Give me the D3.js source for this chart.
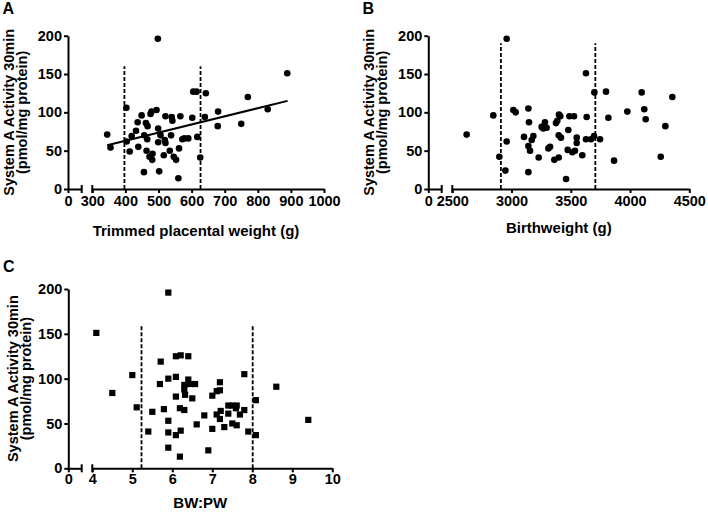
<!DOCTYPE html>
<html>
<head>
<meta charset="utf-8">
<script src="https://cdn.jsdelivr.net/npm/d3@7"></script>
<style>
  body { margin: 0; background: #fff; }
  svg { display: block; }
</style>
</head>
<body>
<div id="chart"></div>
<script>
// values
var activityTicks = [0, 50, 100, 150, 200];

// A: trimmed placental weight (g) vs System A activity
var placentalWeight = [345, 355, 403, 419, 404, 413, 432, 437, 439, 449, 457, 456, 462, 467, 464,
  466, 473, 476, 479, 481, 494, 482, 499, 502, 499, 506, 516, 519, 521, 521, 534, 540, 542, 538,
  546, 553, 560, 562, 566, 572, 578, 590, 602, 605, 615, 617, 626, 640, 643, 498, 680, 679, 750,
  770, 830, 889];
var activityA = [71, 54, 106, 69, 62, 49, 76, 87, 55, 96, 70, 22, 86, 82, 50, 65, 42, 98, 101, 38,
  103, 46, 79, 23, 61, 70, 44, 64, 95, 60, 50, 94, 89, 70, 42, 38, 14, 53, 95, 65, 66, 66, 93, 127,
  127, 68, 41, 94, 125, 196, 101, 82, 85, 120, 104, 151];
var placentalTicks = [300, 400, 500, 600, 700, 800, 900, 1000];
var placentalCutoffs = [397, 627];
var fitWeight = [345, 890];
var fitActivity = [57, 115];

// B: birthweight (g) vs System A activity
var birthWeight = [2846, 3015, 3035, 3142, 3147, 2959, 2897, 2948, 3142, 3105, 3184, 3170, 3142,
  3156, 3229, 3254, 3282, 3268, 3296, 3400, 3412, 3386, 3375, 3398, 3417, 3311, 3325, 3361, 3398,
  3460, 3479, 3488, 3527, 3474, 3513, 3535, 3550, 3550, 3597, 3634, 3699, 3797, 3628, 3670, 3696,
  3747, 3817, 3865, 2621, 2959, 3628, 3977, 4098, 4120, 4132, 4357, 4298, 4259];
var activityB = [96, 103, 100, 105, 87, 62, 42, 24, 22, 68, 69, 64, 56, 50, 41, 81, 87, 79, 80, 97,
  95, 89, 86, 70, 67, 53, 55, 38, 41, 13, 77, 95, 95, 51, 48, 50, 67, 60, 44, 94, 126, 127, 65, 65,
  69, 65, 93, 37, 71, 196, 151, 101, 126, 104, 91, 120, 82, 42];
var birthTicks = [2500, 3000, 3500, 4000, 4500];
var birthCutoffs = [2910, 3707];

// C: BW:PW ratio vs System A activity
var ratio = [5.40, 5.50, 5.71, 5.69, 5.79, 5.90, 5.90, 5.90, 5.90, 6.09, 6.21, 6.40, 6.09, 6.09,
  6.09, 6.21, 6.19, 6.30, 6.19, 6.30, 6.30, 6.32, 6.40, 6.44, 6.57, 6.50, 6.61, 6.80, 6.90, 7.00,
  7.00, 7.11, 7.19, 7.19, 7.11, 7.19, 7.21, 7.30, 7.40, 7.40, 7.50, 7.61, 7.50, 7.61, 7.59, 7.69,
  7.80, 7.80, 7.90, 8.09, 8.09, 4.10, 4.50, 5.00, 5.11, 5.90, 8.60, 9.40];
var activityC = [41, 63, 119, 94, 66, 100, 53, 40, 23, 125, 126, 125, 102, 80, 37, 42, 67, 65, 13,
  93, 88, 82, 99, 94, 94, 78, 49, 59, 20, 81, 44, 86, 87, 96, 60, 55, 64, 46, 70, 61, 50, 48, 70,
  70, 67, 60, 65, 105, 41, 76, 37, 151, 84, 104, 68, 196, 91, 54];
var ratioTicks = [4, 5, 6, 7, 8, 9, 10];
var ratioCutoffs = [5.23, 8.01];

var fontFamily = '"Liberation Sans", Arial, Helvetica, sans-serif';
var fmt = d3.format('d');

var svg = d3.select('#chart').append('svg')
  .attr('width', 708)
  .attr('height', 512)
  .attr('font-family', fontFamily)
  .attr('font-weight', 'bold');

function drawPanel(p) {
  var g = svg.append('g');

  var y = d3.scaleLinear().domain([0, 200]).range([p.bottom, p.top]);
  var xLow = d3.scaleLinear().domain(p.lowDomain).range([p.left, p.breakAt]);
  var x = d3.scaleLinear().domain(p.domain).range([p.resume, p.right]);

  // y axis
  var yAxis = g.append('g')
    .attr('transform', 'translate(' + p.left + ',0)')
    .call(d3.axisLeft(y).tickValues(activityTicks).tickFormat(fmt)
      .tickSize(4).tickPadding(2).tickSizeOuter(0));

  // x axis, in two pieces with a break
  var xAxisLow = g.append('g')
    .attr('transform', 'translate(0,' + p.bottom + ')')
    .call(d3.axisBottom(xLow).tickValues([p.lowDomain[0]]).tickFormat(fmt)
      .tickSize(4).tickPadding(p.xPad).tickSizeOuter(0));

  var xAxis = g.append('g')
    .attr('transform', 'translate(0,' + p.bottom + ')')
    .call(d3.axisBottom(x).tickValues(p.ticks).tickFormat(fmt)
      .tickSize(4).tickPadding(p.xPad).tickSizeOuter(0));

  [yAxis, xAxisLow, xAxis].forEach(function (a) {
    a.attr('font-family', null).attr('font-size', 14.5).attr('font-weight', 'bold');
    a.selectAll('path, line').attr('stroke', '#000').attr('stroke-width', 2);
    a.selectAll('text').attr('fill', '#000');
  });

  // break caps
  [xLow(p.lowDomain[1]), x(p.domain[0])].forEach(function (cx) {
    g.append('line')
      .attr('x1', cx).attr('x2', cx)
      .attr('y1', p.bottom - 4).attr('y2', p.bottom + 4)
      .attr('stroke', '#000')
      .attr('stroke-width', 2);
  });

  // cut-off lines
  g.selectAll('.cut')
    .data(p.cutoffs)
    .enter().append('line')
    .attr('class', 'cut')
    .attr('x1', function (d) { return x(d); })
    .attr('x2', function (d) { return x(d); })
    .attr('y1', y(0))
    .attr('y2', y(p.cutTop))
    .attr('stroke', '#000')
    .attr('stroke-width', 1.8)
    .attr('stroke-dasharray', '4,2');

  // points
  var pts = d3.zip(p.xs, p.ys);
  if (p.square) {
    g.selectAll('.pt')
      .data(pts)
      .enter().append('rect')
      .attr('class', 'pt')
      .attr('x', function (d) { return x(d[0]) - 3.1; })
      .attr('y', function (d) { return y(d[1]) - 3.1; })
      .attr('width', 6.2)
      .attr('height', 6.2)
      .attr('fill', '#000');
  } else {
    g.selectAll('.pt')
      .data(pts)
      .enter().append('circle')
      .attr('class', 'pt')
      .attr('cx', function (d) { return x(d[0]); })
      .attr('cy', function (d) { return y(d[1]); })
      .attr('r', 3.3)
      .attr('fill', '#000');
  }

  // regression line
  if (p.fitX) {
    g.append('path')
      .datum(d3.zip(p.fitX, p.fitY))
      .attr('fill', 'none')
      .attr('stroke', '#000')
      .attr('stroke-width', 2)
      .attr('d', d3.line()
        .x(function (d) { return x(d[0]); })
        .y(function (d) { return y(d[1]); }));
  }

  // titles
  g.append('text')
    .attr('x', (p.left + p.right) / 2)
    .attr('y', p.xTitleY)
    .attr('text-anchor', 'middle')
    .attr('font-size', 15)
    .text(p.xTitle);

  var yt = g.append('text')
    .attr('transform', 'translate(' + p.yTitleX + ',' + (p.top + p.bottom) / 2 + ') rotate(-90)')
    .attr('text-anchor', 'middle')
    .attr('font-size', 14.5);
  yt.append('tspan').attr('x', 0).attr('y', 0).text('System A Activity 30min');
  yt.append('tspan').attr('x', 0).attr('y', 13).text('(pmol/mg protein)');

  g.append('text')
    .attr('x', p.labelX)
    .attr('y', p.labelY)
    .attr('font-size', 16)
    .text(p.label);
}

drawPanel({
  label: 'A', labelX: 2.5, labelY: 14,
  left: 68, breakAt: 81.7, resume: 92.3, right: 324, top: 35.7, bottom: 189,
  lowDomain: [0, 40], domain: [300, 1000], ticks: placentalTicks, xPad: 3,
  xs: placentalWeight, ys: activityA, cutoffs: placentalCutoffs, cutTop: 160,
  fitX: fitWeight, fitY: fitActivity,
  xTitle: 'Trimmed placental weight (g)', xTitleY: 235.5, yTitleX: 14
});

drawPanel({
  label: 'B', labelX: 362.5, labelY: 14,
  left: 428.3, breakAt: 441.7, resume: 452.3, right: 689.3, top: 35.7, bottom: 189,
  lowDomain: [0, 200], domain: [2500, 4500], ticks: birthTicks, xPad: 3,
  xs: birthWeight, ys: activityB, cutoffs: birthCutoffs, cutTop: 190,
  xTitle: 'Birthweight (g)', xTitleY: 233, yTitleX: 374
});

drawPanel({
  label: 'C', labelX: 3, labelY: 272, square: true,
  left: 68.3, breakAt: 81.7, resume: 92.3, right: 332.3, top: 289, bottom: 468.3,
  lowDomain: [0, 0.4], domain: [4, 10], ticks: ratioTicks, xPad: 1,
  xs: ratio, ys: activityC, cutoffs: ratioCutoffs, cutTop: 160,
  xTitle: 'BW:PW', xTitleY: 508, yTitleX: 17.5
});
</script>
</body>
</html>
